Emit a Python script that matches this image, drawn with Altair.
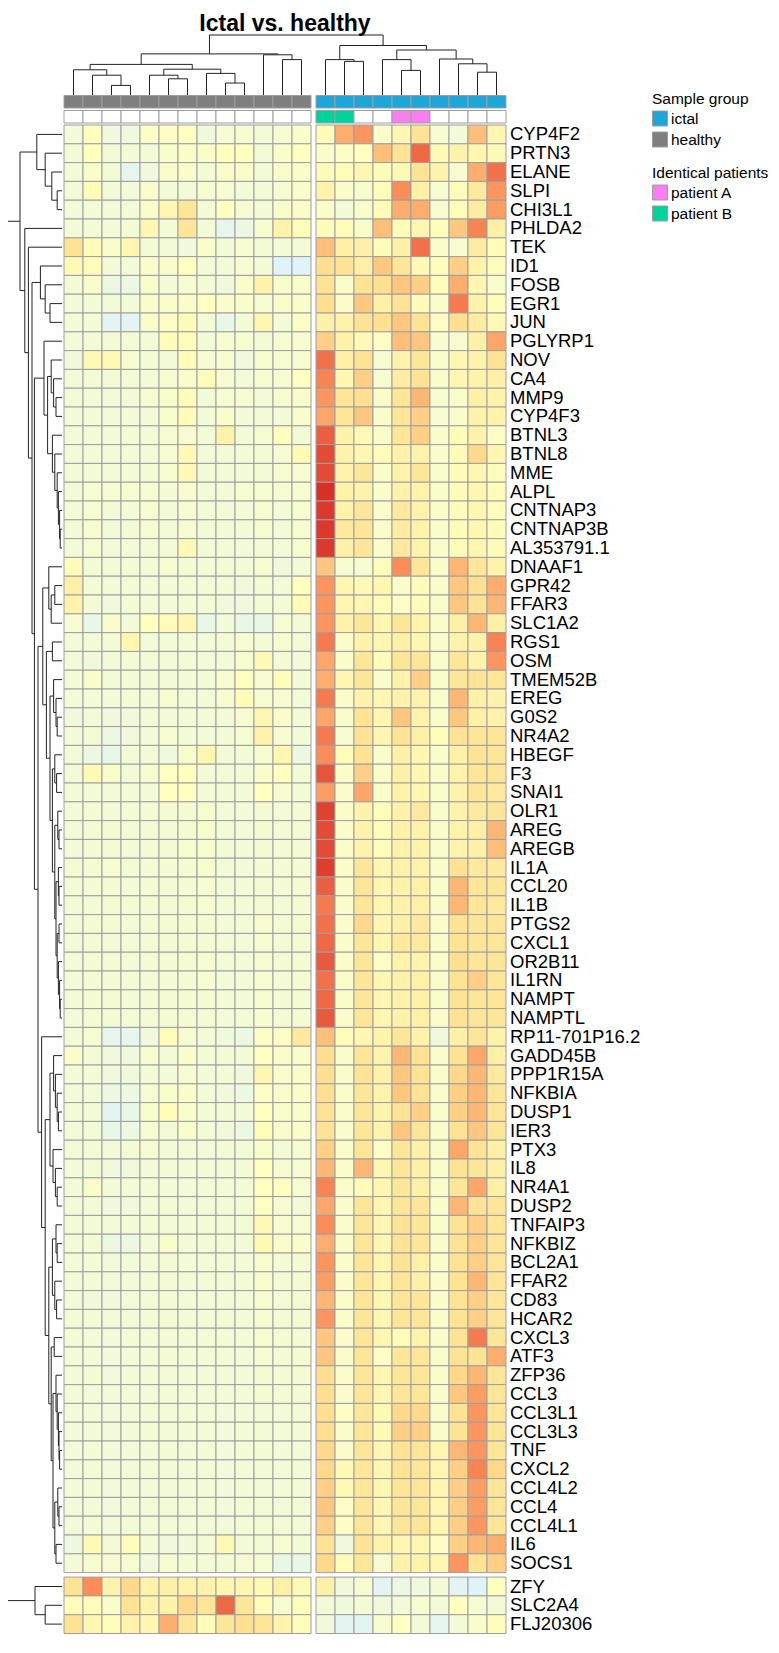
import altair as alt
import pandas as pd

# ---------------- data ----------------
genes = ["CYP4F2", "PRTN3", "ELANE", "SLPI", "CHI3L1", "PHLDA2", "TEK", "ID1", "FOSB", "EGR1",
         "JUN", "PGLYRP1", "NOV", "CA4", "MMP9", "CYP4F3", "BTNL3", "BTNL8", "MME", "ALPL",
         "CNTNAP3", "CNTNAP3B", "AL353791.1", "DNAAF1", "GPR42", "FFAR3", "SLC1A2", "RGS1", "OSM", "TMEM52B",
         "EREG", "G0S2", "NR4A2", "HBEGF", "F3", "SNAI1", "OLR1", "AREG", "AREGB", "IL1A",
         "CCL20", "IL1B", "PTGS2", "CXCL1", "OR2B11", "IL1RN", "NAMPT", "NAMPTL", "RP11-701P16.2", "GADD45B",
         "PPP1R15A", "NFKBIA", "DUSP1", "IER3", "PTX3", "IL8", "NR4A1", "DUSP2", "TNFAIP3", "NFKBIZ",
         "BCL2A1", "FFAR2", "CD83", "HCAR2", "CXCL3", "ATF3", "ZFP36", "CCL3", "CCL3L1", "CCL3L3",
         "TNF", "CXCL2", "CCL4L2", "CCL4", "CCL4L1", "IL6", "SOCS1", "ZFY", "SLC2A4", "FLJ20306"]
main_block_size = 77  # rows above the row gap

healthy_values = [
    [-0.4, 0.0, -0.5, -0.5, -0.1, -0.1, 0.0, -0.5, -0.3, -0.3, -0.4, -0.3, -0.2],
    [-0.4, 0.0, -0.4, -0.4, -0.4, -0.2, -0.2, -0.2, 0.0, 0.0, -0.4, -0.2, 0.0],
    [-0.4, -0.2, -0.4, -0.8, -0.5, -0.2, -0.2, -0.4, -0.2, -0.2, -0.4, -0.2, -0.2],
    [-0.4, 0.1, -0.4, -0.4, -0.2, -0.4, -0.4, -0.3, -0.3, -0.4, -0.4, -0.3, -0.2],
    [-0.4, -0.4, -0.4, -0.4, -0.2, 0.3, 0.8, -0.4, 0.0, -0.3, -0.4, -0.2, -0.2],
    [-0.4, -0.4, -0.4, -0.4, 0.3, -0.4, 0.8, -0.4, -0.8, -0.6, -0.3, 0.4, 0.1],
    [0.9, 0.1, -0.2, 0.3, -0.4, -0.4, -0.5, -0.2, -0.4, -0.3, -0.4, -0.4, -0.4],
    [0.2, 0.1, -0.4, -0.4, -0.2, -0.2, 0.0, -0.4, -0.4, -0.3, -0.4, -1.0, -1.0],
    [-0.4, -0.2, -0.6, -0.6, -0.2, -0.4, -0.3, -0.4, -0.5, -0.2, 0.4, -0.2, -0.2],
    [-0.4, -0.4, -0.4, -0.4, -0.2, -0.2, -0.2, 0.0, -0.2, -0.2, -0.3, -0.2, -0.2],
    [-0.4, -0.4, -0.9, -0.9, -0.2, -0.1, 0.1, -0.4, -0.7, -0.4, 0.3, -0.4, -0.1],
    [-0.4, -0.4, -0.4, -0.4, -0.4, 0.1, 0.1, -0.4, -0.3, -0.3, -0.4, -0.3, -0.3],
    [-0.5, 0.2, 0.2, -0.3, -0.4, -0.4, 0.1, -0.3, -0.3, -0.5, -0.3, -0.3, -0.3],
    [-0.4, -0.4, -0.4, -0.4, -0.4, -0.3, -0.2, 0.1, -0.3, -0.4, -0.3, -0.3, 0.0],
    [-0.4, -0.4, -0.4, -0.4, -0.3, -0.2, 0.1, -0.4, -0.3, -0.3, -0.4, -0.3, -0.2],
    [-0.4, -0.4, -0.4, -0.4, -0.4, -0.2, 0.1, -0.4, -0.2, -0.4, -0.4, -0.4, -0.2],
    [-0.4, -0.4, -0.4, -0.4, -0.4, -0.3, -0.3, -0.4, 0.4, -0.4, -0.3, 0.0, -0.4],
    [-0.4, -0.4, -0.4, -0.4, -0.4, -0.3, 0.2, -0.4, -0.4, -0.4, -0.4, -0.3, 0.2],
    [-0.4, -0.4, -0.4, -0.4, -0.4, -0.3, 0.2, -0.4, -0.4, -0.4, -0.4, -0.3, -0.3],
    [-0.4, -0.3, -0.3, -0.3, -0.3, -0.4, -0.3, -0.4, -0.4, -0.3, -0.3, -0.3, -0.3],
    [-0.4, -0.3, -0.4, -0.4, -0.3, -0.4, -0.3, -0.4, -0.4, -0.4, -0.3, -0.4, -0.3],
    [-0.4, -0.3, -0.4, -0.4, -0.3, -0.4, -0.3, -0.4, -0.4, -0.4, -0.3, -0.4, -0.3],
    [-0.4, -0.3, -0.4, -0.4, -0.4, -0.4, 0.2, -0.4, -0.4, -0.4, -0.4, -0.4, -0.3],
    [0.1, -0.4, -0.4, -0.4, -0.4, -0.3, -0.4, -0.4, -0.4, -0.4, -0.3, -0.5, -0.4],
    [0.5, -0.4, -0.4, -0.4, -0.4, -0.4, -0.4, -0.4, -0.4, -0.5, -0.4, -0.4, 0.0],
    [0.4, -0.4, -0.5, -0.4, -0.4, -0.4, -0.4, -0.4, -0.5, -0.5, -0.4, -0.4, 0.1],
    [-0.3, -0.7, -0.2, -0.4, 0.0, 0.1, 0.3, -0.7, -0.4, -0.7, -0.7, -0.3, -0.4],
    [-0.4, -0.4, -0.4, 0.3, -0.4, -0.4, -0.4, -0.4, -0.4, -0.3, -0.4, -0.3, -0.4],
    [-0.4, -0.5, -0.4, -0.4, -0.4, -0.4, -0.4, -0.4, -0.4, -0.3, 0.2, -0.4, -0.4],
    [-0.4, -0.2, -0.4, -0.4, -0.4, -0.4, -0.4, -0.4, -0.3, 0.0, -0.3, 0.1, -0.4],
    [-0.4, -0.4, -0.4, -0.4, -0.4, -0.3, -0.4, -0.4, -0.3, 0.1, -0.3, -0.3, -0.4],
    [-0.5, -0.4, -0.5, -0.5, -0.4, -0.4, -0.4, -0.4, -0.4, -0.3, 0.3, -0.2, -0.4],
    [-0.4, -0.4, -0.6, -0.5, -0.4, -0.3, -0.4, -0.4, -0.4, -0.3, 0.4, -0.3, -0.4],
    [-0.4, -0.6, -0.7, -0.4, -0.4, -0.5, -0.2, 0.3, -0.4, -0.4, -0.3, 0.3, -0.6],
    [-0.4, 0.2, -0.2, -0.4, -0.3, 0.0, 0.0, -0.4, -0.4, -0.4, -0.2, 0.0, -0.4],
    [-0.4, -0.4, -0.4, -0.4, -0.4, 0.0, 0.0, -0.4, -0.4, -0.4, 0.0, -0.3, -0.4],
    [-0.4, -0.35, -0.4, -0.4, -0.35, -0.35, -0.35, -0.3, -0.4, -0.4, -0.35, -0.4, -0.35],
    [-0.4, -0.35, -0.35, -0.4, -0.35, -0.35, -0.35, -0.25, -0.4, -0.4, -0.35, -0.35, -0.35],
    [-0.4, -0.35, -0.35, -0.4, -0.35, -0.35, -0.3, -0.25, -0.4, -0.4, -0.35, -0.35, -0.35],
    [-0.35, -0.35, -0.3, -0.4, -0.35, -0.35, -0.35, -0.25, -0.4, -0.4, -0.35, -0.35, -0.35],
    [-0.4, -0.35, -0.35, -0.4, -0.35, -0.35, -0.35, -0.3, -0.4, -0.4, -0.35, -0.35, -0.35],
    [-0.4, -0.4, -0.35, -0.4, -0.35, -0.35, -0.35, -0.3, -0.4, -0.4, -0.35, -0.4, -0.35],
    [-0.4, -0.35, -0.35, -0.4, -0.35, -0.35, -0.35, -0.35, -0.4, -0.4, -0.3, -0.35, -0.35],
    [-0.4, -0.35, -0.4, -0.4, -0.35, -0.35, -0.35, -0.35, -0.4, -0.4, -0.3, -0.35, -0.35],
    [-0.4, -0.35, -0.35, -0.4, -0.35, -0.35, -0.35, -0.3, -0.4, -0.4, -0.3, -0.35, -0.35],
    [-0.4, -0.35, -0.35, -0.4, -0.35, -0.35, -0.35, -0.3, -0.4, -0.4, -0.3, -0.35, -0.35],
    [-0.4, -0.35, -0.35, -0.4, -0.35, -0.35, -0.35, -0.35, -0.4, -0.4, -0.3, -0.35, -0.35],
    [-0.45, -0.35, -0.35, -0.4, -0.35, -0.35, -0.35, -0.35, -0.4, -0.4, -0.3, -0.35, -0.35],
    [-0.4, -0.3, -0.8, -0.8, -0.5, 0.1, -0.3, -0.4, -0.5, -0.6, -0.1, -0.1, 0.7],
    [-0.2, -0.4, -0.5, -0.5, -0.3, -0.4, -0.2, -0.4, -0.4, -0.4, 0.0, -0.2, -0.2],
    [-0.4, -0.4, -0.5, -0.5, -0.4, -0.4, -0.3, -0.4, -0.4, -0.5, 0.3, -0.2, -0.2],
    [-0.4, -0.4, -0.6, -0.6, -0.3, -0.2, -0.2, -0.4, -0.5, -0.6, -0.1, -0.2, -0.2],
    [-0.4, -0.4, -0.9, -0.7, -0.2, 0.1, -0.2, -0.4, -0.4, -0.4, 0.0, -0.2, -0.2],
    [-0.4, -0.4, -0.7, -0.6, -0.3, -0.4, -0.2, -0.4, -0.5, -0.6, 0.1, -0.2, -0.2],
    [-0.4, -0.4, -0.4, -0.4, -0.3, -0.4, -0.4, -0.4, -0.4, -0.4, -0.2, -0.4, -0.3],
    [-0.4, -0.4, -0.5, -0.5, -0.4, -0.4, -0.4, -0.4, -0.4, -0.4, 0.0, -0.3, -0.3],
    [-0.4, -0.2, -0.4, -0.4, -0.4, -0.4, -0.4, -0.4, -0.4, -0.4, 0.0, 0.0, -0.3],
    [-0.4, -0.4, -0.5, -0.5, -0.4, -0.4, -0.4, -0.4, -0.4, -0.4, 0.0, -0.3, -0.4],
    [-0.4, -0.4, -0.4, -0.4, -0.4, -0.4, -0.4, -0.4, -0.4, -0.4, 0.2, -0.3, -0.3],
    [-0.4, -0.4, -0.6, -0.6, -0.4, -0.2, -0.4, -0.4, -0.4, -0.4, 0.2, -0.2, -0.2],
    [-0.4, -0.4, -0.45, -0.45, -0.4, -0.35, -0.4, -0.4, -0.4, -0.4, -0.25, -0.35, -0.35],
    [-0.4, -0.4, -0.45, -0.45, -0.4, -0.35, -0.4, -0.4, -0.4, -0.4, -0.25, -0.35, -0.35],
    [-0.4, -0.5, -0.5, -0.45, -0.4, -0.35, -0.4, -0.4, -0.4, -0.4, -0.25, -0.35, -0.35],
    [-0.4, -0.4, -0.45, -0.45, -0.4, -0.35, -0.4, -0.4, -0.4, -0.4, -0.3, -0.35, -0.35],
    [-0.4, -0.4, -0.45, -0.45, -0.4, -0.35, -0.4, -0.4, -0.4, -0.4, -0.3, -0.35, -0.35],
    [-0.4, -0.4, -0.45, -0.45, -0.4, -0.35, -0.4, -0.4, -0.4, -0.4, -0.3, -0.35, -0.35],
    [-0.4, -0.4, -0.45, -0.45, -0.4, -0.4, -0.4, -0.4, -0.4, -0.4, -0.35, -0.35, -0.35],
    [-0.4, -0.4, -0.45, -0.45, -0.4, -0.4, -0.4, -0.4, -0.4, -0.4, -0.35, -0.35, -0.35],
    [-0.45, -0.4, -0.45, -0.45, -0.4, -0.4, -0.4, -0.4, -0.45, -0.4, -0.4, -0.4, -0.4],
    [-0.45, -0.4, -0.45, -0.45, -0.4, -0.4, -0.4, -0.4, -0.45, -0.4, -0.4, -0.4, -0.4],
    [-0.45, -0.4, -0.45, -0.45, -0.4, -0.4, -0.4, -0.4, -0.45, -0.4, -0.4, -0.4, -0.4],
    [-0.45, -0.4, -0.45, -0.45, -0.4, -0.4, -0.4, -0.4, -0.45, -0.4, -0.4, -0.4, -0.4],
    [-0.45, -0.4, -0.45, -0.45, -0.4, -0.4, -0.4, -0.4, -0.45, -0.4, -0.4, -0.4, -0.4],
    [-0.45, -0.4, -0.45, -0.45, -0.4, -0.4, -0.4, -0.4, -0.45, -0.4, -0.4, -0.4, -0.4],
    [-0.45, -0.4, -0.45, -0.45, -0.4, -0.4, -0.4, -0.4, -0.45, -0.4, -0.4, -0.4, -0.4],
    [-0.6, 0.2, -0.4, 0.1, -0.4, -0.5, -0.5, -0.4, 0.2, -0.4, -0.4, -0.3, -0.4],
    [-0.4, -0.3, -0.3, -0.3, -0.5, -0.3, -0.4, -0.4, -0.4, -0.3, -0.3, -0.7, -0.7],
    [0.9, 2.0, 0.4, 1.1, 0.4, 0.5, 0.4, 0.4, 0.3, 0.3, 0.2, 0.5, 0.2],
    [0.1, 0.1, -0.2, 0.9, 0.4, 0.4, 1.1, 0.8, 2.4, 0.8, 0.1, -0.3, 0.1],
    [0.9, 0.3, 0.1, 0.4, 0.3, 1.6, 0.8, 0.1, 0.8, 1.0, 0.8, 0.4, 0.1],
]

ictal_values = [
    [0.1, 1.6, 1.9, -0.2, 0.3, 0.9, -0.3, -0.4, 1.4, 0.3],
    [-0.2, -0.1, 0.0, 1.4, 0.9, 2.4, 0.2, 0.4, 0.3, 0.2],
    [0.1, 0.1, 0.3, 0.1, 0.2, 0.9, 0.4, -0.3, 1.6, 2.3],
    [0.4, -0.2, -0.3, 0.1, 2.0, 0.5, -0.3, 0.1, 0.7, 1.9],
    [-0.2, -0.4, -0.2, 0.1, 1.6, 1.6, -0.3, 0.1, 0.6, 1.8],
    [0.1, 0.1, -0.2, 1.4, 0.1, 0.3, 0.1, 1.3, 2.1, 0.5],
    [1.4, 0.5, 0.5, 0.1, 0.5, 2.3, -0.2, -0.3, 0.6, 0.1],
    [1.0, 0.9, 0.5, 1.3, 0.8, 0.2, 0.1, 1.2, 0.4, 0.1],
    [0.9, -0.2, 0.9, 1.0, 1.3, 1.2, 0.1, 1.6, 0.3, -0.2],
    [1.0, -0.2, 1.3, 0.5, 0.9, 0.1, -0.2, 2.2, 0.4, 0.1],
    [0.5, 0.4, 0.9, 1.0, 1.3, 0.9, -0.1, 1.0, 0.6, 0.2],
    [1.2, 0.4, 0.2, -0.1, 1.4, 1.3, -0.3, -0.3, 0.5, 1.7],
    [2.3, 0.5, 0.9, -0.3, 0.4, 0.8, -0.2, 0.3, 0.4, 0.9],
    [2.1, 0.3, 1.2, -0.3, 0.6, 0.9, -0.2, 0.3, 0.4, 0.5],
    [1.9, 0.8, 1.0, -0.2, 0.8, 1.5, -0.3, -0.2, 0.5, 0.4],
    [1.7, 0.8, 1.3, -0.2, 0.8, 1.2, -0.3, -0.2, 0.4, 0.4],
    [2.5, 0.4, 0.2, -0.2, 0.8, 1.2, -0.2, 0.1, 0.4, -0.1],
    [2.7, 0.4, 0.3, 0.1, 0.4, 0.4, -0.2, 0.1, 1.1, 0.3],
    [2.7, 0.4, 0.8, -0.2, 0.4, 0.8, -0.2, 0.1, 0.3, 0.1],
    [3.0, 0.4, 0.4, -0.2, 0.4, 0.4, -0.2, 0.1, 0.3, 0.1],
    [2.9, 0.4, 0.8, -0.2, 0.7, 0.4, -0.2, 0.1, 0.3, 0.1],
    [2.9, 0.7, 0.8, -0.2, 0.6, 0.4, -0.2, 0.1, 0.3, 0.1],
    [2.9, 0.5, 0.8, -0.2, 0.7, 0.4, -0.2, 0.1, 0.3, 0.1],
    [1.3, -0.3, -0.3, 0.1, 2.0, 0.8, -0.2, 1.5, 0.8, 0.4],
    [1.9, 0.3, 0.2, 0.3, -0.2, 0.1, -0.2, 1.3, 1.0, 1.6],
    [1.9, 0.3, 0.3, 0.1, -0.1, 0.1, -0.2, 1.3, 0.9, 1.5],
    [1.9, 0.4, 0.8, 0.3, 0.8, 0.4, -0.2, 0.5, 1.5, 0.5],
    [2.2, -0.2, 0.4, 0.3, 0.5, 0.3, -0.2, 0.4, 0.4, 2.1],
    [1.7, -0.2, 0.8, 0.1, 0.8, 0.8, -0.2, 0.8, 0.4, 1.9],
    [1.6, 0.3, 0.8, -0.2, 0.4, 1.2, -0.2, 0.8, 0.9, 0.8],
    [2.2, -0.2, 0.4, 0.3, 0.4, 0.4, -0.2, 1.5, 0.5, 0.4],
    [1.7, -0.2, 0.9, 0.3, 1.3, 0.4, -0.2, 1.3, 0.5, 0.4],
    [2.2, -0.3, 0.9, 0.3, 0.9, 0.5, 0.1, 0.9, 0.8, 0.8],
    [2.0, 0.1, 0.9, -0.2, 0.5, 0.3, -0.2, 0.5, 0.9, 0.8],
    [2.6, -0.2, 1.2, -0.2, 0.5, 0.3, -0.2, 0.4, 0.8, 0.8],
    [1.8, -0.2, 1.7, -0.2, 0.4, 0.3, -0.2, 0.4, 0.8, 0.7],
    [2.8, -0.2, 0.4, 0.1, 0.4, 0.7, -0.2, 0.4, 0.7, 0.8],
    [2.7, -0.2, 0.4, 0.1, 0.4, 0.4, -0.2, 0.4, 0.5, 1.5],
    [2.7, -0.2, 0.4, 0.1, 0.4, 0.4, -0.2, 0.4, 0.5, 1.4],
    [2.85, -0.2, 0.8, 0.3, 0.4, 0.4, -0.2, 0.9, 0.7, 0.7],
    [2.5, -0.2, 0.8, 0.3, 0.4, 0.5, -0.2, 1.5, 0.8, 0.8],
    [2.2, -0.2, 0.8, 0.3, 0.4, 0.5, -0.2, 1.5, 0.8, 0.7],
    [2.3, -0.2, 1.1, 0.3, 0.5, 0.7, -0.2, 0.9, 0.8, 0.8],
    [2.4, -0.2, 0.8, 0.3, 0.7, 0.7, -0.2, 0.9, 0.8, 0.8],
    [2.55, -0.2, 0.8, -0.1, 0.4, 0.4, -0.2, 1.0, 0.8, 0.8],
    [2.3, -0.2, 0.8, 0.3, 0.4, 0.5, -0.2, 0.9, 1.2, 0.8],
    [2.4, -0.2, 0.8, 0.3, 0.4, 0.5, -0.2, 0.9, 0.8, 0.8],
    [2.55, -0.2, 0.8, 0.3, 0.4, 0.5, -0.2, 0.9, 0.8, 0.8],
    [1.4, 0.1, 0.3, 0.4, 0.8, 0.4, -0.5, 0.5, 0.8, 0.4],
    [1.0, -0.2, 0.8, 0.4, 1.5, 0.9, -0.2, 0.9, 1.7, 0.5],
    [1.0, -0.2, 0.9, 0.4, 1.3, 0.9, -0.2, 1.1, 1.5, 0.7],
    [1.0, -0.2, 0.8, 0.4, 1.3, 0.9, -0.2, 1.2, 1.5, 0.8],
    [0.9, -0.2, 0.8, 0.4, 0.9, 1.2, -0.2, 1.2, 1.5, 0.8],
    [0.9, -0.2, 0.8, 0.4, 1.3, 0.8, -0.2, 0.9, 1.3, 0.8],
    [1.2, -0.2, 0.8, -0.1, 0.8, 0.5, -0.2, 1.7, 0.9, 0.5],
    [1.5, -0.2, 1.5, 0.3, 0.8, 0.5, -0.2, 0.9, 0.8, 0.5],
    [2.1, -0.2, 0.1, 0.3, 0.8, 0.5, -0.2, 0.8, 1.7, 0.5],
    [1.7, -0.2, 0.8, 0.3, 0.8, 0.8, -0.2, 1.5, 0.9, 0.8],
    [2.0, -0.2, 0.8, 0.3, 0.9, 0.8, -0.2, 0.9, 1.2, 0.8],
    [1.6, -0.2, 0.8, 0.3, 0.9, 0.8, -0.2, 0.9, 1.2, 0.8],
    [1.9, -0.2, 0.8, 0.3, 0.9, 0.5, -0.2, 0.9, 1.2, 0.8],
    [1.8, -0.2, 0.8, 0.3, 0.8, 0.5, -0.2, 0.9, 1.5, 0.8],
    [1.5, -0.2, 0.8, 0.3, 0.8, 0.8, -0.2, 0.9, 1.2, 0.8],
    [1.9, -0.2, 0.8, 0.3, 0.8, 0.8, -0.2, 0.9, 1.2, 0.8],
    [1.3, -0.2, 0.8, 0.3, 0.1, 0.4, -0.2, 0.9, 2.2, 0.8],
    [1.3, -0.2, 0.8, -0.1, 0.8, 0.8, -0.2, 0.9, 0.9, 1.6],
    [1.0, -0.2, 0.8, 0.3, 0.8, 0.8, -0.2, 1.1, 1.5, 0.8],
    [1.0, -0.2, 0.8, 0.3, 0.8, 0.8, -0.2, 1.3, 1.8, 0.8],
    [1.0, -0.1, 0.8, 0.2, 1.1, 1.1, -0.2, 0.9, 1.9, 0.8],
    [1.0, -0.2, 0.8, 0.2, 1.2, 1.2, -0.2, 0.9, 1.9, 0.8],
    [1.1, -0.2, 0.8, 0.3, 0.9, 0.8, 0.3, 1.5, 1.9, 0.8],
    [1.1, 0.2, 0.8, 0.3, 0.9, 0.8, 0.3, 1.2, 2.1, 1.1],
    [1.2, 0.2, 0.8, 0.3, 0.8, 0.8, 0.3, 1.2, 1.8, 0.8],
    [1.3, -0.1, 0.8, 0.3, 0.8, 0.8, 0.3, 1.2, 1.8, 0.8],
    [1.2, -0.1, 0.8, 0.3, 0.8, 0.8, 0.3, 1.2, 1.9, 0.8],
    [0.9, -0.5, 0.9, 0.4, 0.3, 0.3, -0.1, 1.2, 1.5, 1.6],
    [1.1, 0.1, 0.8, -0.3, 0.4, 0.4, 0.3, 1.9, 0.9, 1.2],
    [0.5, -0.5, -0.3, -0.9, -0.6, -0.5, -0.4, -0.9, -1.0, 0.0],
    [-0.4, -0.5, -0.4, -0.5, -0.4, -0.3, -0.4, 0.0, -0.3, -0.4],
    [-0.5, -0.9, -0.9, -0.3, 0.0, -0.4, -0.8, -0.4, -0.2, 0.1],
]

sample_group = ["healthy"] * 13 + ["ictal"] * 10
identical_patients = ["none"] * 13 + ["patient B", "patient B", "none", "none", "patient A",
                                      "patient A", "none", "none", "none", "none"]

# column dendrogram: [height, left, right]; leaves are column indices (display order)
col_tree = [100,
            [68.5,
             [51, [42, 0, [33, 1, [16, 2, 3]]], [43, [33, 4, [27, 5, 6]], [36, 7, [20, 8, 9]]]],
             [67, 10, [59, 11, 12]]],
            [82.5,
             [59, 13, [56, 14, 15]],
             [75, [59, 16, [41, 17, 18]], [60, 19, [52, 20, [38, 21, 22]]]]]]

# row dendrogram: [height, top, bottom]; leaves are row indices (display order)
row_group_top = [42, 0, [28, 1, [17, 2, [8, 3, 4]]]]
row_group_3 = [30, 11, [24, [18, 12, [14, 13, [10, 14, 15]]],
                        [16, 16, [12, 17, [8, 18, [6, 19, [4, 20, [3, 21, 22]]]]]]]]
row_group_4 = [32, [22, 23, [18, [12, 24, 25], 26]],
               [26, [16, 27, 28],
                [20, [14, 29, [10, 30, [8, 31, 32]]],
                 [16, [12, 33, [9, 34, 35]],
                  [12, [7, 36, [5, 37, 38]],
                   [10, [6, 39, [5, 40, 41]],
                    [8, [5, 42, 43], [6, 44, [4, 45, [3, 46, 47]]]]]]]]]]
row_group_5 = [34, 48,
               [28, [20, [14, 49, [11, 50, [8, 51, [6, 52, 53]]]], [15, 54, [11, 55, [8, 56, 57]]]],
                [22, [16, [10, 58, [8, 59, 60]], [12, 61, [9, 62, 63]]],
                 [18, [13, 64, 65],
                  [15, [10, 66, [8, 67, [6, 68, [5, 69, [4, 70, 71]]]]],
                   [12, [7, 72, [5, 73, 74]], [10, 75, 76]]]]]]]
row_tree = [100,
            [70, row_group_top,
             [62, 5,
              [56, 6,
               [50, [36, 7, [28, 8, [20, 9, 10]]],
                [46, row_group_3, [40, row_group_4, row_group_5]]]]]],
            [45, 77, [28, 78, 79]]]

# ---------------- layout (page pixels) ----------------
W, H = 763, 1630
X0 = 64.0          # left edge of heatmap
CW = 19.0          # cell width
COL_GAP = 5.0      # gap between healthy / ictal
Y0 = 125.0         # top of heatmap
RH = 18.8          # row height
ROW_GAP = 4.5
LEAF_X, ROOT_X = 62.0, 2.0
LEAF_Y, ROOT_Y = 95.0, 35.0
ANN1 = (95.5, 108.0)
ANN2 = (110.5, 123.0)


def col_left(j):
    return X0 + j * CW + (COL_GAP if j >= 13 else 0.0)


def row_top(i):
    return Y0 + i * RH + (ROW_GAP if i >= main_block_size else 0.0)


cells = []
for i, g in enumerate(genes):
    vals = healthy_values[i] + ictal_values[i]
    for j, v in enumerate(vals):
        cells.append({"gene": g, "col": j, "v": v,
                      "x0": col_left(j), "x1": col_left(j) + CW,
                      "y0": row_top(i), "y1": row_top(i) + RH})
cells = pd.DataFrame(cells)

ann = []
for j in range(len(sample_group)):
    ann.append({"x0": col_left(j), "x1": col_left(j) + CW, "y0": ANN1[0], "y1": ANN1[1],
                "group": sample_group[j]})
ann_df = pd.DataFrame(ann)
ann2 = []
for j in range(len(identical_patients)):
    ann2.append({"x0": col_left(j), "x1": col_left(j) + CW, "y0": ANN2[0], "y1": ANN2[1],
                 "pat": identical_patients[j]})
ann2_df = pd.DataFrame(ann2)

labels = pd.DataFrame({"gene": genes,
                       "lx": [X0 + 23 * CW + COL_GAP + 4] * len(genes),
                       "ly": [row_top(i) + RH / 2 for i in range(len(genes))]})

segs = []


def walk_rows(node):
    if isinstance(node, int):
        return row_top(node) + RH / 2, 0.0
    h, a, b = node
    pa, ha = walk_rows(a)
    pb, hb = walk_rows(b)
    xh = LEAF_X - h / 100 * (LEAF_X - ROOT_X)
    xa = LEAF_X - ha / 100 * (LEAF_X - ROOT_X)
    xb = LEAF_X - hb / 100 * (LEAF_X - ROOT_X)
    segs.append({"x": xa, "x2": xh, "y": pa, "y2": pa})
    segs.append({"x": xb, "x2": xh, "y": pb, "y2": pb})
    segs.append({"x": xh, "x2": xh, "y": pa, "y2": pb})
    return (pa + pb) / 2, h


def walk_cols(node):
    if isinstance(node, int):
        return col_left(node) + CW / 2, 0.0
    h, a, b = node
    pa, ha = walk_cols(a)
    pb, hb = walk_cols(b)
    yh = LEAF_Y - h / 100 * (LEAF_Y - ROOT_Y)
    ya = LEAF_Y - ha / 100 * (LEAF_Y - ROOT_Y)
    yb = LEAF_Y - hb / 100 * (LEAF_Y - ROOT_Y)
    segs.append({"x": pa, "x2": pa, "y": ya, "y2": yh})
    segs.append({"x": pb, "x2": pb, "y": yb, "y2": yh})
    segs.append({"x": pa, "x2": pb, "y": yh, "y2": yh})
    return (pa + pb) / 2, h


walk_rows(row_tree)
walk_cols(col_tree)
seg_df = pd.DataFrame(segs)

title_df = pd.DataFrame({"t": ["Ictal vs. healthy"], "x": [(X0 + col_left(22) + CW) / 2], "y": [24.0]})

xs = alt.Scale(domain=[8, 8 + W], nice=False, zero=False)
ys = alt.Scale(domain=[8, 8 + H], reverse=True, nice=False, zero=False)
FONT = "Liberation Sans"

heat_colors = ["#4575B4", "#91BFDB", "#E0F3F8", "#FFFFBF", "#FEE090", "#FC8D59", "#D73027"]
heat_scale = alt.Scale(domain=[-3, -2, -1, 0, 1, 2, 3], range=heat_colors, interpolate="rgb")

heat = alt.Chart(cells).mark_rect(stroke="#9E9E9E", strokeWidth=1).encode(
    x=alt.X("x0:Q", scale=xs, axis=None), x2="x1:Q",
    y=alt.Y("y0:Q", scale=ys, axis=None), y2="y1:Q",
    color=alt.Color("v:Q", scale=heat_scale, legend=None),
)

legend_common = dict(orient="none", titleFontSize=15.5, titleFontWeight="normal", titleFont=FONT,
                     labelFont=FONT, labelFontSize=15.5, symbolType="square", symbolSize=225,
                     symbolStrokeColor="#9E9E9E", symbolStrokeWidth=1, symbolOpacity=1,
                     rowPadding=1, titlePadding=3, labelOffset=3, titleColor="black",
                     labelColor="black", padding=0, titleLimit=200)

ann_chart = alt.Chart(ann_df).mark_rect(stroke="#9E9E9E", strokeWidth=1).encode(
    x=alt.X("x0:Q", scale=xs, axis=None), x2="x1:Q",
    y=alt.Y("y0:Q", scale=ys, axis=None), y2="y1:Q",
    color=alt.Color("group:N", scale=alt.Scale(domain=["ictal", "healthy"], range=["#1EA6D9", "#7F7F7F"]),
                    legend=alt.Legend(title="Sample group", legendX=644, legendY=84, **legend_common)),
)

ann2_chart = alt.Chart(ann2_df).mark_rect(stroke="#9E9E9E", strokeWidth=1).encode(
    x=alt.X("x0:Q", scale=xs, axis=None), x2="x1:Q",
    y=alt.Y("y0:Q", scale=ys, axis=None), y2="y1:Q",
    color=alt.Color("pat:N", scale=alt.Scale(domain=["patient A", "patient B", "none"],
                                             range=["#F77FF0", "#00D39B", "#FFFFFF"]),
                    legend=alt.Legend(title="Identical patients", values=["patient A", "patient B"],
                                      legendX=644, legendY=158, **legend_common)),
)

dendro = alt.Chart(seg_df).mark_rule(color="#222222", strokeWidth=1).encode(
    x=alt.X("x:Q", scale=xs, axis=None), x2="x2:Q",
    y=alt.Y("y:Q", scale=ys, axis=None), y2="y2:Q",
)

label_chart = alt.Chart(labels).mark_text(align="left", baseline="middle", fontSize=18.5, font=FONT,
                                          color="black").encode(
    x=alt.X("lx:Q", scale=xs, axis=None), y=alt.Y("ly:Q", scale=ys, axis=None), text="gene:N",
)

title_chart = alt.Chart(title_df).mark_text(align="center", baseline="middle", fontSize=23, font=FONT,
                                            fontWeight="bold", color="black").encode(
    x=alt.X("x:Q", scale=xs, axis=None), y=alt.Y("y:Q", scale=ys, axis=None), text="t:N",
)

chart = alt.layer(heat, ann_chart, ann2_chart, dendro, label_chart, title_chart).resolve_scale(
    color="independent"
).properties(
    width=W, height=H, padding=0, autosize=alt.AutoSizeParams(type="none")
).configure_view(stroke=None)

chart.save("out.html", embed_options={"renderer": "svg", "actions": False})
